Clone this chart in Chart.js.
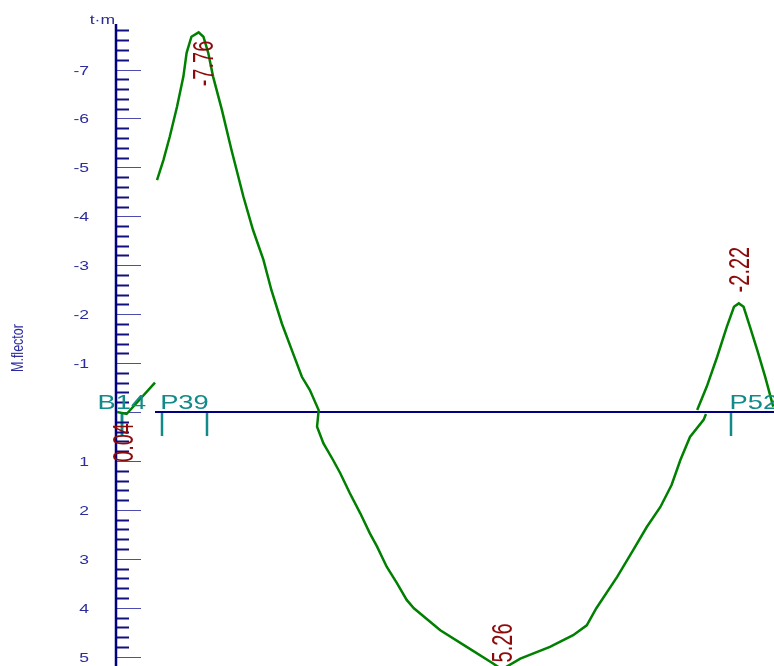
<!DOCTYPE html>
<html>
<head>
<meta charset="utf-8">
<title>M.flector</title>
<script src="https://cdn.jsdelivr.net/npm/chart.js"></script>
<style>
  html, body { margin: 0; padding: 0; background: #fff; }
  #wrap { position: relative; width: 774px; height: 666px; }
</style>
</head>
<body>
<div id="wrap"><canvas id="momentChart"></canvas></div>
<script>
// Position along the beam (m) and bending moment (t·m); hogging is negative and drawn upwards
const span1X = [0.00, 0.12, 0.475];
const span1M = [0.00, 0.04, -0.60];

const span2X = [0.50, 0.58, 0.66, 0.75, 0.83, 0.87, 0.93, 1.02, 1.08, 1.14, 1.20, 1.31, 1.43, 1.58,
                1.70, 1.83, 1.93, 2.06, 2.20, 2.31, 2.41, 2.52, 2.50, 2.58, 2.70, 2.79, 2.91, 3.04,
                3.16, 3.25, 3.37, 3.50, 3.62, 3.71, 4.04, 4.37, 4.70, 4.81, 5.04, 5.41, 5.70, 5.87,
                5.99, 6.25, 6.45, 6.62, 6.79, 6.93, 7.04, 7.16, 7.33, 7.36];
const span2M = [-4.74, -5.15, -5.63, -6.24, -6.86, -7.34, -7.67, -7.76, -7.67, -7.34, -6.86, -6.18, -5.36, -4.40,
                -3.72, -3.11, -2.49, -1.81, -1.20, -0.72, -0.45, -0.04, 0.30, 0.64, 0.98, 1.25, 1.66, 2.07,
                2.48, 2.75, 3.16, 3.50, 3.84, 4.01, 4.46, 4.80, 5.14, 5.26, 5.04, 4.80, 4.56, 4.36,
                4.01, 3.37, 2.82, 2.35, 1.94, 1.49, 0.98, 0.51, 0.16, 0.04];

const span3X = [7.25, 7.37, 7.50, 7.62, 7.71, 7.77, 7.83, 7.91, 8.00, 8.10, 8.20];
const span3M = [-0.04, -0.52, -1.13, -1.74, -2.15, -2.22, -2.15, -1.74, -1.27, -0.72, -0.11];

// Supports: name and the two faces (m)
const supportNames = ['B14', 'P39', 'P52'];
const supportFaceL = [0.06, 0.56, 7.675];
const supportFaceR = [0.06, 1.125, 8.24];

// Extreme values that get printed: [span, point index]
const peakRefs = [[0, 1], [1, 7], [1, 37], [2, 5]];

// Labelled values on the moment axis
const yTickLabels = [-7, -6, -5, -4, -3, -2, -1, 1, 2, 3, 4, 5];

const spansX = [span1X, span2X, span3X];
const spansM = [span1M, span2M, span3M];

const FONT = '"Liberation Sans", Arial, sans-serif';

function flatText(ctx, text, px, py, size, color, align, sx) {
    ctx.save();
    ctx.translate(px, py);
    ctx.scale(sx, 1);
    ctx.font = size + 'px ' + FONT;
    ctx.fillStyle = color;
    ctx.textAlign = align;
    ctx.textBaseline = 'alphabetic';
    ctx.fillText(text, 0, 0);
    ctx.restore();
}

// text reading bottom to top, (px, py) = baseline start
function upText(ctx, text, px, py, size, color, k) {
    ctx.save();
    ctx.translate(px, py);
    ctx.rotate(-Math.PI / 2);
    ctx.scale(1, k);
    ctx.font = size + 'px ' + FONT;
    ctx.fillStyle = color;
    ctx.textAlign = 'left';
    ctx.textBaseline = 'alphabetic';
    ctx.fillText(text, 0, 0);
    ctx.restore();
}

const diagramDecor = {
    id: 'diagramDecor',
    beforeDatasetsDraw(chart) {
        const { ctx, chartArea: area, scales: { x, y } } = chart;
        const y0 = y.getPixelForValue(0);
        ctx.save();

        // reference line of the beam
        ctx.strokeStyle = '#000080';
        ctx.lineWidth = 2;
        ctx.beginPath();
        ctx.moveTo(x.getPixelForValue(span1X[span1X.length - 1]), y0);
        ctx.lineTo(area.right, y0);
        ctx.stroke();

        // support faces
        ctx.strokeStyle = '#138a8a';
        ctx.lineWidth = 2.5;
        supportNames.forEach((name, i) => {
            [supportFaceL[i], supportFaceR[i]].forEach(f => {
                const px = Math.round(x.getPixelForValue(f));
                if (px > area.right) return;
                ctx.beginPath();
                ctx.moveTo(px, y0 + 1);
                ctx.lineTo(px, y0 + 24);
                ctx.stroke();
            });
        });

        // axis ticks every 0.2, long ones on whole units
        const axisX = area.left - 1;
        for (let i = Math.ceil(y.min / 0.2 - 1e-6); i <= Math.floor(y.max / 0.2 + 1e-6); i++) {
            const py = Math.round(y.getPixelForValue(i * 0.2)) + 0.5;
            const major = i % 5 === 0;
            ctx.beginPath();
            if (major) {
                ctx.strokeStyle = '#4c4cae';
                ctx.lineWidth = 1;
                ctx.moveTo(axisX, py);
                ctx.lineTo(axisX + 25, py);
            } else {
                ctx.strokeStyle = '#10107f';
                ctx.lineWidth = 2;
                ctx.moveTo(axisX, py);
                ctx.lineTo(axisX + 13, py);
            }
            ctx.stroke();
        }

        // axis line
        ctx.strokeStyle = '#000080';
        ctx.lineWidth = 2.5;
        ctx.beginPath();
        ctx.moveTo(axisX, area.top);
        ctx.lineTo(axisX, area.bottom);
        ctx.stroke();
        ctx.restore();
    },
    afterDatasetsDraw(chart) {
        const { ctx, chartArea: area, scales: { x, y } } = chart;
        const y0 = y.getPixelForValue(0);

        // axis labels
        yTickLabels.forEach(v => {
            flatText(ctx, String(v), 89, y.getPixelForValue(v) + 5, 13, '#2c2c9c', 'right', 1.35);
        });
        flatText(ctx, 't\u00b7m', 115, 24, 13, '#2c2c8c', 'right', 1.35);
        upText(ctx, 'M.flector', 23, 372, 12.5, '#2c2ca0', 1.35);

        // support names, centred between the faces
        supportNames.forEach((name, i) => {
            const cx = x.getPixelForValue((supportFaceL[i] + supportFaceR[i]) / 2);
            flatText(ctx, name, cx, y0 - 3, 21, '#138a8a', 'center', 1.3);
        });

        // printed extremes
        const offsets = [[6, 48], [14, 54], [10, -7], [10, -11]];
        peakRefs.forEach(([s, j], n) => {
            const m = spansM[s][j];
            const px = x.getPixelForValue(spansX[s][j]) + offsets[n][0];
            const py = y.getPixelForValue(m) + offsets[n][1];
            upText(ctx, m.toFixed(2), px, py, 20, '#8c0a0a', 1.5);
        });
    }
};

document.addEventListener('DOMContentLoaded', function() {
    const ctx = document.getElementById('momentChart').getContext('2d');

    const datasets = spansX.map((xs, s) => ({
        data: xs.map((v, i) => ({ x: v, y: spansM[s][i] })),
        borderColor: '#008000',
        borderWidth: 2.5,
        pointRadius: 0,
        tension: 0,
        fill: false
    }));

    new Chart(ctx, {
        type: 'line',
        data: { datasets: datasets },
        options: {
            responsive: true,
            maintainAspectRatio: false,
            animation: false,
            layout: { padding: { left: 117, top: 24, right: 0, bottom: 0 } },
            plugins: {
                legend: { display: false },
                tooltip: { enabled: false }
            },
            scales: {
                x: { type: 'linear', min: 0, max: 8.21, display: false },
                y: { type: 'linear', min: -7.93, max: 5.19, reverse: true, display: false }
            }
        },
        plugins: [diagramDecor]
    });
});
</script>
</body>
</html>
